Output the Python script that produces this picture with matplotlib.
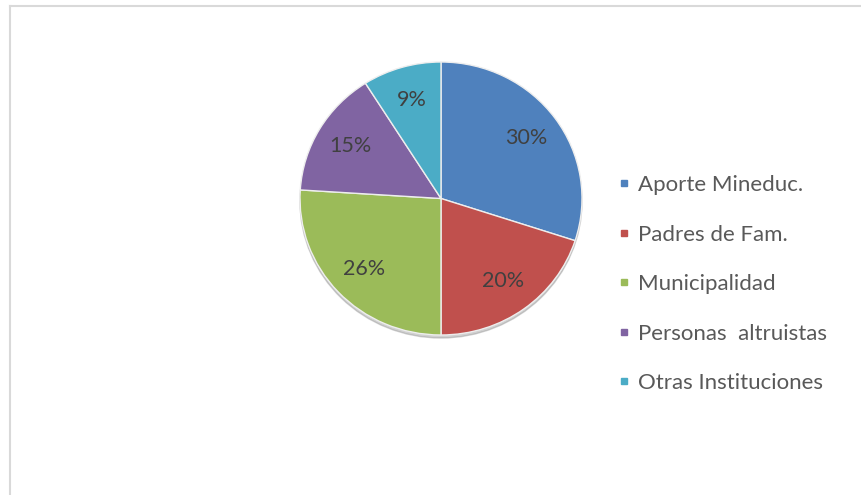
import matplotlib.pyplot as plt
from matplotlib.patches import Ellipse
from matplotlib.lines import Line2D

labels = ["Aporte Mineduc.", "Padres de Fam.", "Municipalidad",
          "Personas  altruistas", "Otras Instituciones"]
values = [30, 20, 26, 15, 9]
colors = ["#4F81BD", "#C0504D", "#9BBB59", "#8064A2", "#4BACC6"]

plt.rcParams['font.family'] = ['Lato', 'DejaVu Sans']

W, H = 862, 495
fig = plt.figure(figsize=(W / 100, H / 100), dpi=100)

# axes sized so the pie is a slightly flattened ellipse like the original
cx, cy, rx, ry = 441, 198.5, 141, 136.5
ax = fig.add_axes([(cx - 1.2 * rx) / W, (H - cy - 1.2 * ry) / H,
                   2.4 * rx / W, 2.4 * ry / H])

# soft shadow under the pie
ax.add_patch(Ellipse((0.0, -0.022), 2.0, 2.0, color="#8C8C8C", alpha=0.4, zorder=0))

wedges, texts, autotexts = ax.pie(
    values, colors=colors, startangle=90, counterclock=False,
    autopct=lambda p: f"{p:.0f}%", pctdistance=0.75, radius=1.0,
    wedgeprops=dict(edgecolor="#EEEEEE", linewidth=1.0),
    textprops=dict(color="#404040", fontsize=15.5))
ax.set_aspect('auto')
ax.set_xlim(-1.2, 1.2)
ax.set_ylim(-1.2, 1.2)
ax.axis('off')

handles = [Line2D([], [], marker='s', linestyle='None', markersize=5,
                  markerfacecolor=c, markeredgecolor=c) for c in colors]
leg = fig.legend(handles, labels, loc='upper left', bbox_to_anchor=(618 / W, 1 - 175 / H),
                 frameon=False, fontsize=16, labelspacing=1.33,
                 handlelength=0.5, handletextpad=0.4, borderpad=0, borderaxespad=0)
for t in leg.get_texts():
    t.set_color("#595959")

# chart frame (top and left edges visible)
fig.add_artist(Line2D([10 / W, 1], [1 - 6 / H, 1 - 6 / H], color="#D9D9D9", lw=1.5))
fig.add_artist(Line2D([10 / W, 10 / W], [0, 1 - 6 / H], color="#D9D9D9", lw=1.5))

fig.savefig("out.png", dpi=100, facecolor="white")
